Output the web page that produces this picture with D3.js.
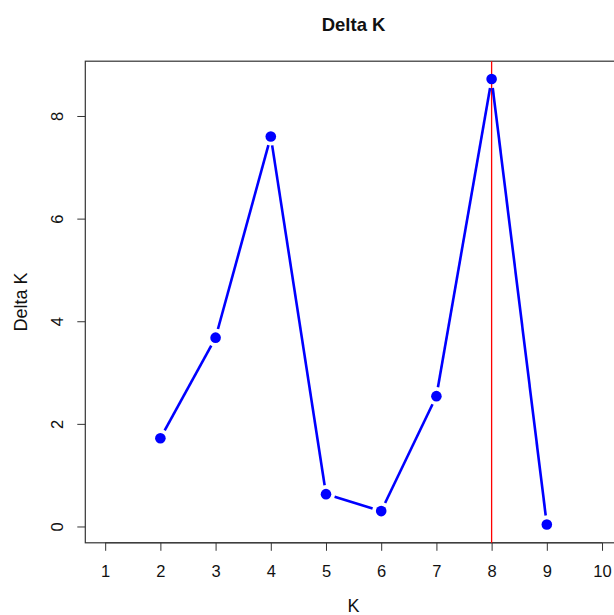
<!DOCTYPE html>
<html>
<head>
<meta charset="utf-8">
<script src="https://cdn.jsdelivr.net/npm/d3@7"></script>
<style>
  body { margin: 0; background: #fff; }
  svg { display: block; font-family: "Liberation Sans", Arial, sans-serif; }
</style>
</head>
<body>
<div id="chart"></div>
<script>
// Delta K per K (Evanno method)
const kValues = [2, 3, 4, 5, 6, 7, 8, 9];
const deltaK = [1.72, 3.68, 7.60, 0.63, 0.30, 2.54, 8.72, 0.04];
const xTicks = [1, 2, 3, 4, 5, 6, 7, 8, 9, 10];
const yTicks = [0, 2, 4, 6, 8];
const bestK = 8;

const width = 614, height = 615;
// plot region (right edge runs past the window, as in the cropped original)
const plotLeft = 85.3, plotRight = 621.9, plotTop = 61.2, plotBottom = 542.8;

const svg = d3.select("#chart").append("svg")
    .attr("width", width)
    .attr("height", height);

const x = d3.scaleLinear().domain([0.64, 10.36]).range([plotLeft, plotRight]);
const y = d3.scaleLinear().domain([-0.318, 9.068]).range([plotBottom, plotTop]);

// title
svg.append("text")
    .attr("x", (plotLeft + plotRight) / 2)
    .attr("y", 31)
    .attr("text-anchor", "middle")
    .attr("font-size", 18.5)
    .attr("font-weight", "bold")
    .attr("fill", "#111")
    .text("Delta K");

// x axis
const xAxis = svg.append("g")
    .attr("transform", `translate(0,${plotBottom})`)
    .call(d3.axisBottom(x).tickValues(xTicks).tickFormat(d3.format("d")).tickSize(8).tickPadding(14));
xAxis.select(".domain").remove();
xAxis.append("line")
    .attr("x1", x(1)).attr("x2", x(10))
    .attr("stroke", "#333");
xAxis.selectAll(".tick line").attr("stroke", "#333");
xAxis.selectAll(".tick text").attr("font-size", 16.5).attr("fill", "#111")
    .attr("font-family", "Liberation Sans, Arial, sans-serif");

// y axis, labels parallel to the axis
const yAxis = svg.append("g")
    .attr("transform", `translate(${plotLeft},0)`)
    .call(d3.axisLeft(y).tickValues(yTicks).tickFormat(d3.format("d")).tickSize(8));
yAxis.select(".domain").remove();
yAxis.selectAll(".tick line").attr("stroke", "#333");
yAxis.selectAll(".tick text")
    .attr("font-size", 16.5).attr("fill", "#111")
    .attr("font-family", "Liberation Sans, Arial, sans-serif")
    .attr("x", null)
    .attr("dy", null)
    .attr("text-anchor", "middle")
    .attr("transform", "translate(-22,0) rotate(-90)");

// axis titles
svg.append("text")
    .attr("x", (plotLeft + plotRight) / 2)
    .attr("y", 612)
    .attr("text-anchor", "middle")
    .attr("font-size", 18)
    .attr("fill", "#111")
    .text("K");
svg.append("text")
    .attr("transform", `translate(27,${(plotTop + plotBottom) / 2}) rotate(-90)`)
    .attr("text-anchor", "middle")
    .attr("font-size", 18)
    .attr("fill", "#111")
    .text("Delta K");

// box
svg.append("rect")
    .attr("x", plotLeft).attr("y", plotTop)
    .attr("width", plotRight - plotLeft).attr("height", plotBottom - plotTop)
    .attr("fill", "none")
    .attr("stroke", "#333")
    .attr("stroke-width", 1.2);

// red reference line at best K
svg.append("line")
    .attr("x1", x(bestK)).attr("x2", x(bestK))
    .attr("y1", plotTop).attr("y2", plotBottom)
    .attr("stroke", "#f00")
    .attr("stroke-width", 1.3);

// type = "b": segments with a gap around each point
const pts = kValues.map((k, i) => [x(k), y(deltaK[i])]);
const gap = 9;
const segs = d3.pairs(pts).map(([a, b]) => {
    const dx = b[0] - a[0], dy = b[1] - a[1];
    const len = Math.hypot(dx, dy);
    const ux = dx / len, uy = dy / len;
    return [a[0] + ux * gap, a[1] + uy * gap, b[0] - ux * gap, b[1] - uy * gap];
});

svg.append("g")
    .attr("stroke", "blue")
    .attr("stroke-width", 2.6)
    .selectAll("line")
    .data(segs)
    .join("line")
    .attr("x1", d => d[0]).attr("y1", d => d[1])
    .attr("x2", d => d[2]).attr("y2", d => d[3]);

svg.append("g")
    .attr("fill", "blue")
    .selectAll("circle")
    .data(pts)
    .join("circle")
    .attr("cx", d => d[0])
    .attr("cy", d => d[1])
    .attr("r", 5.3);
</script>
</body>
</html>
